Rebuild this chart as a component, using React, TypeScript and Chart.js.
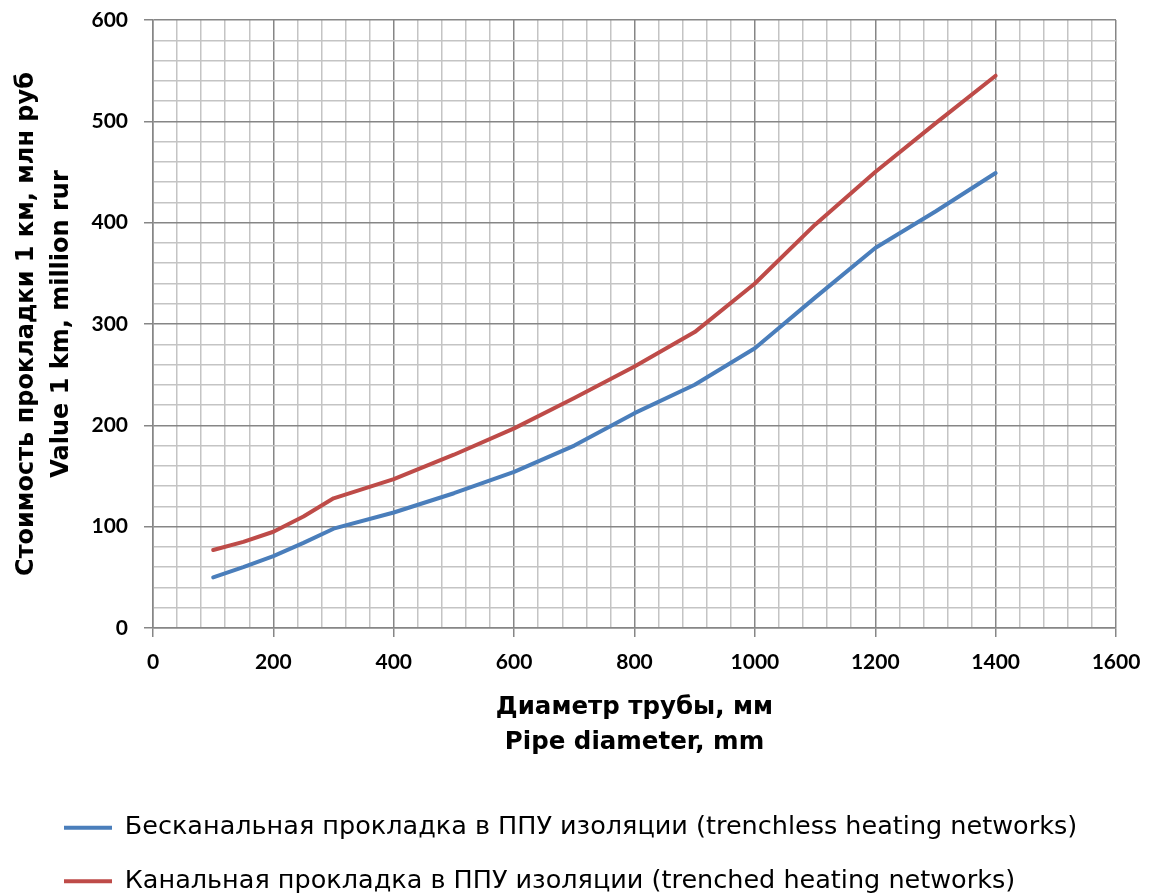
import React, { useEffect, useRef } from 'react';
import { Chart, registerables } from 'chart.js';

Chart.register(...registerables);

// ---- data ----
const diameters = [100, 150, 200, 250, 300, 400, 500, 600, 700, 800, 900, 1000, 1100, 1200, 1300, 1400];
const trenchlessCost = [50, 60, 71, 84, 98, 114, 133, 154, 180, 212, 240, 276, 326, 375, 411, 449];
const trenchedCost = [77, 85, 95, 110, 128, 147, 171, 197, 227, 258, 292, 340, 398, 450, 498, 545];

const seriesLabels = [
  'Бесканальная прокладка в ППУ изоляции (trenchless heating networks)',
  'Канальная прокладка в ППУ изоляции (trenched heating networks)',
];
const seriesColors = ['#4a7ebb', '#be4b48'];
const xTitle = ['Диаметр трубы, мм', 'Pipe diameter, mm'];
const yTitle = ['Стоимость прокладки 1 км, млн руб', 'Value 1 km, million rur'];

const xMin = 0;
const xMax = 1600;
const xMinorStep = 40;
const xMajorStep = 200;
const yMin = 0;
const yMax = 600;
const yMinorStep = 20;
const yMajorStep = 100;

const TICK_FONT = 'Lato, "Open Sans", sans-serif';
const TEXT_FONT = '"DejaVu Sans", "Open Sans", sans-serif';
const MAJOR = '#868686';
const MINOR = '#c4c4c4';

export default function App() {
  const ref = useRef<HTMLCanvasElement | null>(null);

  useEffect(() => {
    const canvas = ref.current;
    if (!canvas) return;

    const legendPlace = {
      id: 'legendPlace',
      afterLayout(chart: any) {
        const lg = chart.legend;
        if (!lg) return;
        const w = lg.width;
        const h = lg.height;
        lg.left = 36;
        lg.right = 36 + w;
        lg.top = 787;
        lg.bottom = 787 + h;
      },
    };

    const isMajor = (v: number, step: number) => Math.abs(v % step) < 1e-6;

    const chart = new Chart(canvas, {
      type: 'line',
      data: {
        datasets: [
          {
            label: seriesLabels[0],
            data: diameters.map((d, i) => ({ x: d, y: trenchlessCost[i] })),
            borderColor: seriesColors[0],
            backgroundColor: seriesColors[0],
            borderWidth: 4,
            pointRadius: 0,
            tension: 0,
            borderCapStyle: 'round',
            borderJoinStyle: 'round',
          },
          {
            label: seriesLabels[1],
            data: diameters.map((d, i) => ({ x: d, y: trenchedCost[i] })),
            borderColor: seriesColors[1],
            backgroundColor: seriesColors[1],
            borderWidth: 4,
            pointRadius: 0,
            tension: 0,
            borderCapStyle: 'round',
            borderJoinStyle: 'round',
          },
        ],
      },
      options: {
        responsive: false,
        animation: false,
        devicePixelRatio: 1,
        layout: { padding: { top: 20, right: 33, bottom: 0, left: 0 } },
        plugins: {
          tooltip: { enabled: false },
          legend: {
            display: true,
            position: 'bottom',
            align: 'start',
            labels: {
              usePointStyle: true,
              pointStyle: 'line',
              pointStyleWidth: 48,
              padding: 28,
              color: '#000',
              font: { family: TEXT_FONT, size: 25.5, weight: 'normal' },
            },
          },
        },
        scales: {
          x: {
            type: 'linear',
            min: xMin,
            max: xMax,
            afterFit: (scale: any) => {
              scale.height = 150;
              scale.paddingLeft = 0;
              scale.paddingRight = 0;
            },
            ticks: {
              stepSize: xMinorStep,
              autoSkip: false,
              maxRotation: 0,
              padding: 13,
              color: '#000',
              font: { family: TICK_FONT, size: 21, weight: 'bold' },
              callback: (v: any) => (isMajor(Number(v), xMajorStep) ? String(v) : ''),
            },
            grid: {
              color: (c: any) => (c.tick && isMajor(c.tick.value, xMajorStep) ? MAJOR : MINOR),
              lineWidth: 1.5,
              tickLength: 9,
              tickColor: (c: any) => (c.tick && isMajor(c.tick.value, xMajorStep) ? MAJOR : 'rgba(0,0,0,0)'),
              tickWidth: 1.5,
            },
            border: { display: true, color: MAJOR, width: 1.5 },
            title: {
              display: true,
              text: xTitle,
              color: '#000',
              font: { family: TEXT_FONT, size: 24.5, weight: 'bold', lineHeight: 35 / 24.5 },
              padding: { top: 0, bottom: 17.5 },
            },
          },
          y: {
            type: 'linear',
            min: yMin,
            max: yMax,
            afterFit: (scale: any) => {
              scale.width = 153;
              scale.paddingTop = 0;
              scale.paddingBottom = 0;
            },
            ticks: {
              stepSize: yMinorStep,
              autoSkip: false,
              padding: 16,
              color: '#000',
              font: { family: TICK_FONT, size: 21, weight: 'bold' },
              callback: (v: any) => (isMajor(Number(v), yMajorStep) ? String(v) : ''),
            },
            grid: {
              color: (c: any) => (c.tick && isMajor(c.tick.value, yMajorStep) ? MAJOR : MINOR),
              lineWidth: 1.5,
              tickLength: 9,
              tickColor: (c: any) => (c.tick && isMajor(c.tick.value, yMajorStep) ? MAJOR : 'rgba(0,0,0,0)'),
              tickWidth: 1.5,
            },
            border: { display: true, color: MAJOR, width: 1.5 },
            title: {
              display: true,
              text: yTitle,
              color: '#000',
              font: { family: TEXT_FONT, size: 24, weight: 'bold', lineHeight: 35 / 24 },
              padding: { top: 9, bottom: 0 },
            },
          },
        },
      },
      plugins: [legendPlace],
    } as any);

    return () => {
      chart.destroy();
    };
  }, []);

  return (
    <div style={{ position: 'fixed', left: 0, top: 0, width: 1149, height: 895, background: '#fff' }}>
      <canvas ref={ref} width={1149} height={895} style={{ display: 'block', width: 1149, height: 895 }} />
    </div>
  );
}
